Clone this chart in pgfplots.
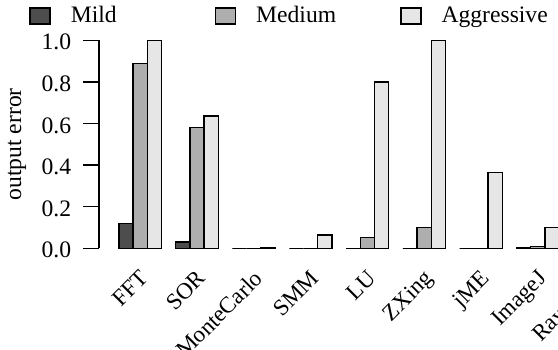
\documentclass[border=0pt]{standalone}
\usepackage{fontspec}
\setmainfont{Liberation Serif}
\usepackage{pgfplots}
\pgfplotsset{compat=1.18}
\definecolor{mild}{HTML}{4D4D4D}
\definecolor{medium}{HTML}{AEAEAE}
\definecolor{aggr}{HTML}{E6E6E6}
\begin{document}
\begin{tikzpicture}[font=\fontsize{11.8}{14}\selectfont]
\useasboundingbox (0,0) rectangle (279pt,174.5pt);
\clip (0,0) rectangle (279pt,174.5pt);
\begin{axis}[
  at={(49.5pt,50.35pt)}, anchor=south west,
  scale only axis, width=268.4pt, height=104pt,
  xmin=-0.4, xmax=37.4, ymin=0, ymax=1,
  clip=false,
  axis lines*=left,
  x axis line style={draw=none},
  y axis line style={line width=0.7pt, black},
  xtick style={draw=none},
  ytick style={line width=0.7pt, black},
  tick align=outside, major tick length=8pt,
  ytick={0,0.2,0.4,0.6,0.8,1},
  /pgf/number format/assume math mode=true,
  yticklabel style={/pgf/number format/fixed, /pgf/number format/fixed zerofill, /pgf/number format/precision=1, anchor=east, inner sep=0pt, xshift=-5.7pt, yshift=-1pt},
  xtick={2.5,6.5,10.5,14.5,18.5,22.5,26.5,30.5,34.5},
  xticklabels={FFT,SOR,MonteCarlo,SMM,LU,ZXing,jME,ImageJ,Raytracer},
  xticklabel style={font=\fontsize{11.5}{13.8}\selectfont, xshift=-0.5pt, yshift=-2pt, rotate=45, anchor=north east, inner sep=0pt},
  ylabel={output error},
  every axis y label/.style={at={(axis description cs:-0.1528,0.5)}, rotate=90, anchor=center},
  ybar, bar width=1, bar shift=0pt,
  legend image code/.code={\draw[#1, line width=0.7pt] (0pt,-4pt) rectangle (10pt,4pt); \path (20pt,0pt);},
  legend style={draw=none, fill=none, inner sep=0pt, legend columns=3, column sep=0pt,
    at={(axis description cs:-0.1304,1.1168)}, anchor=west,
    nodes={inner sep=0pt}},
]
\addplot[fill=mild, draw=black, line width=0.7pt] coordinates {(1.5,0.12) (5.5,0.031) (9.5,0) (13.5,0) (17.5,0) (21.5,0) (25.5,0) (29.5,0.004)};
\addplot[fill=medium, draw=black, line width=0.7pt] coordinates {(2.5,0.888) (6.5,0.581) (10.5,0) (14.5,0) (18.5,0.052) (22.5,0.10) (26.5,0) (30.5,0.01)};
\addplot[fill=aggr, draw=black, line width=0.7pt] coordinates {(3.5,1.0) (7.5,0.637) (11.5,0.003) (15.5,0.063) (19.5,0.80) (23.5,1.0) (27.5,0.363) (31.5,0.10)};
\legend{\makebox[72pt][l]{Mild},\makebox[72pt][l]{Medium},\makebox[72pt][l]{Aggressive}}
\end{axis}
\end{tikzpicture}
\end{document}
